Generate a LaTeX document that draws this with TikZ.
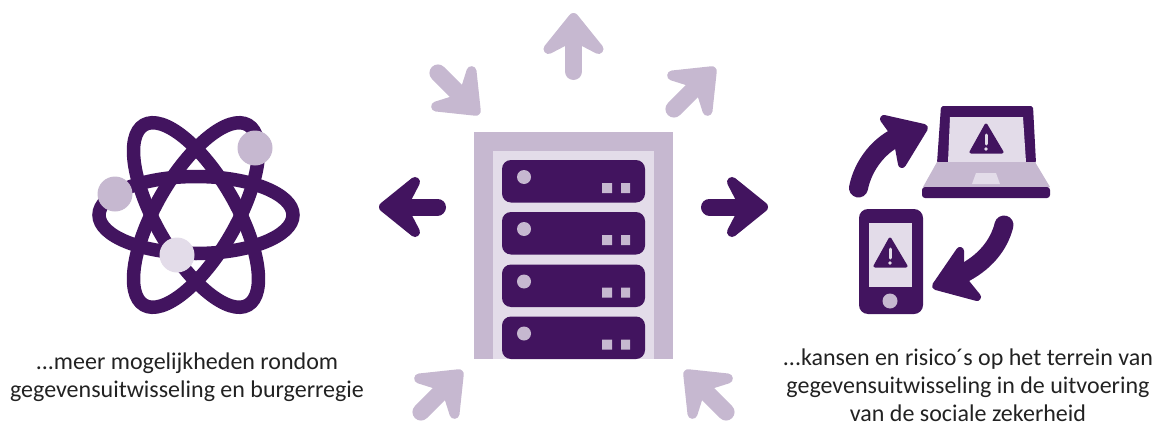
\documentclass[tikz,border=0pt]{standalone}
\usepackage{fontspec}
\setmainfont{Carlito}
\definecolor{dark}{HTML}{42145F}
\definecolor{mid}{HTML}{C6B8D0}
\definecolor{pale}{HTML}{E3DCE9}
\definecolor{ink}{HTML}{222222}
\tikzset{
  ring/.style={draw=dark,line width=13.5pt},
  ball/.style={circle,minimum size=35pt,inner sep=0pt,fill=#1},
  caption/.style={align=center,text=ink,font=\fontsize{24}{28}\selectfont,inner sep=0pt},
  cornered/.style={line join=round,line width=#1},
}
\newcommand{\StraightArrow}[4]{%
  \begin{scope}[shift={(#1,#2)},rotate=#3]
    \draw[#4,fill=#4,cornered=10pt] (0,6) -- (-25,37) -- (0,24) -- (25,37) -- cycle;
    \draw[#4,line width=17pt,line cap=round] (0,24) -- (0,59.5);
  \end{scope}}
\newcommand{\Server}[1]{%
  \begin{scope}[yshift=#1]
    \fill[dark,rounded corners=9pt] (502,0) rectangle (645,42.5);
    \fill[mid] (524,17) circle (7pt);
    \fill[mid] (602,23) rectangle (612,33) (621,23) rectangle (630,33);
  \end{scope}}
\begin{document}
\begin{tikzpicture}[x=1pt,y=-1pt]
\useasboundingbox (0,0) rectangle (1157,423);
% atom
\begin{scope}[shift={(196,215)}]
  \draw[ring] (0,0) ellipse [x radius=97,y radius=38.5];
  \draw[ring,rotate=60] (0,0) ellipse [x radius=104,y radius=40];
  \draw[ring,rotate=-60] (0,0) ellipse [x radius=104,y radius=40];
\end{scope}
\node[ball=mid] (ballA) at (255,148) {};
\node[ball=mid] (ballB) at (115,194) {};
\node[ball=pale] (ballC) at (177,255) {};
% rack
\fill[mid] (474,132) rectangle (673,359);
\fill[pale] (493,151) rectangle (654,359);
\Server{-160pt}\Server{-212pt}\Server{-264.5pt}\Server{-316.5pt}
% arrows around rack
\StraightArrow{573.5}{12}{0}{mid}
\StraightArrow{716}{67}{-45}{mid}
\StraightArrow{480}{115}{-135}{mid}
\StraightArrow{463}{370}{-45}{mid}
\StraightArrow{684}{370}{45}{mid}
\StraightArrow{378}{207}{90}{dark}
\StraightArrow{769}{207}{-90}{dark}
% laptop
\fill[dark,rounded corners=2pt] (941,106) -- (1033,106) -- (1036,163) -- (937,163) -- cycle;
\fill[pale] (950,117) -- (1023,117) -- (1026,162) -- (948,162) -- cycle;
\fill[mid] (937,162) -- (1035,162) -- (1050,187) -- (923,187) -- cycle;
\fill[dark,rounded corners=3pt] (922,187) rectangle (1050,198);
\fill[pale] (976,173) -- (996,173) -- (1000,184) -- (972,184) -- cycle;
\draw[dark,fill=dark,cornered=3pt] (986,125) -- (1002,152) -- (971,152) -- cycle;
\draw[pale,line width=3pt,line cap=round] (986,135) -- (986,144);
\fill[pale] (986,149) circle (1.8pt);
% phone
\fill[dark,rounded corners=9pt] (859,209) rectangle (923,314);
\fill[pale] (869,223) rectangle (912,287);
\fill[mid] (890,301) circle (7.5pt);
\draw[dark,fill=dark,cornered=3pt] (890,239) -- (906,266) -- (875,266) -- cycle;
\draw[pale,line width=3pt,line cap=round] (890,249) -- (890,258);
\fill[pale] (890,263) circle (1.8pt);
% curved arrows
\draw[dark,line width=19pt,line cap=round] (858.5,188) .. controls (863,165) and (880,143) .. (902,135);
\draw[dark,fill=dark,cornered=8pt] (924,128) -- (884,119) -- (897,137) -- (902,164) -- cycle;
\draw[dark,line width=19pt,line cap=round] (1004,225) .. controls (999,245) and (985,263) .. (960,275);
\draw[dark,fill=dark,cornered=8pt] (936,286) -- (960,251) -- (960,276) -- (977,297) -- cycle;
% captions
\node[caption] (capL) at (187,377.5) {...meer mogelijkheden rondom\\gegevensuitwisseling en burgerregie};
\node[caption] (capR) at (968,385.5) {...kansen en risico´s op het terrein van\\gegevensuitwisseling in de uitvoering\\van de sociale zekerheid};
\end{tikzpicture}
\end{document}
